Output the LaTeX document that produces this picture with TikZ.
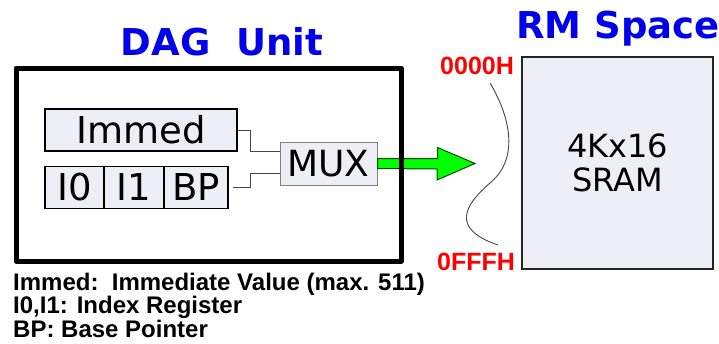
\documentclass[tikz,border=0pt]{standalone}
\usepackage{fontspec}
\setmainfont{DejaVu Sans}
\newfontfamily\notefont{Liberation Sans}
\usetikzlibrary{positioning}

\definecolor{boxfill}{RGB}{238,238,246}
\definecolor{titleblue}{RGB}{0,0,235}
\definecolor{addrred}{RGB}{255,0,0}
\definecolor{wiregray}{RGB}{70,70,70}

\tikzset{
  regbox/.style={draw=black, line width=1.6pt, fill=boxfill, inner sep=0pt,
    minimum height=42pt, font=\fontsize{37}{40}\selectfont},
  muxbox/.style={draw=gray, line width=1pt, fill=boxfill, inner sep=0pt,
    minimum width=97pt, minimum height=43pt, font=\fontsize{36}{40}\selectfont},
  wire/.style={draw=wiregray, line width=0.9pt},
  title/.style={text=titleblue, font=\fontsize{37}{40}\selectfont\bfseries, inner sep=0pt},
  addr/.style={text=addrred, font=\notefont\fontsize{25}{28}\selectfont\bfseries, inner sep=0pt},
  note/.style={font=\notefont\fontsize{24}{26}\selectfont\bfseries, inner sep=0pt}
}

\begin{document}
\begin{tikzpicture}[x=1pt,y=-1pt]
  \useasboundingbox (0,0) rectangle (719,343);

  % Titles
  \node[title, anchor=base] (dagtitle) at (222,55) {DAG\ \ Unit};
  \node[title, anchor=base west] (rmtitle) at (516,38) {RM Space};

  % Registers and mux
  \node[regbox, minimum width=192pt] (immed) at (141,130) {Immed};
  \node[regbox, minimum width=59pt] (izero) at (74.5,187.5) {I0};
  \node[regbox, minimum width=60pt] (ione) at (134,187.5) {I1};
  \node[regbox, minimum width=64pt] (bp) at (196,187.5) {BP};
  \node[muxbox] (mux) at (328.5,163.5) {MUX};

  \draw[wire] (immed.east) -- ++(13,0) |- ([yshift=12pt]mux.west);
  \draw[wire] ([xshift=4pt]bp.east) -- ++(18,0) |- ([yshift=-10pt]mux.west);

  % Green arrow to memory
  \coordinate (tip) at (475,163.5);
  \draw[draw=black!70!green, line width=1pt, fill=green, line join=miter]
    ([yshift=5pt]mux.east) -- ++(60,0) -- ++(0,-11) -- (tip)
    -- ++(-38,16.5) -- ++(0,-11) -- ([yshift=-5pt]mux.east) -- cycle;

  % DAG unit frame (on top of the arrow)
  \draw[line width=5pt, line join=round] (16,68) rectangle (401,261);

  % Memory
  \node[draw=black!85, line width=2.5pt, fill=boxfill, minimum width=191pt,
    minimum height=212pt, align=center, inner sep=0pt,
    font=\fontsize{32}{34}\selectfont] (sram) at (617.5,163) {4Kx16\\SRAM};

  \node[addr, anchor=base west] (first) at (440,74) {0000H};
  \node[addr, anchor=base west] (last) at (437,270) {0FFFH};
  \draw[wiregray, line width=0.9pt] (490,83) .. controls (512,120) and (518,160) .. (490,183)
    .. controls (455,213) and (460,232) .. (498,245);

  % Legend
  \node[note, anchor=base west] (legimm) at (13,290) {Immed:\ \ Immediate Value (max. 511)};
  \node[note, anchor=base west] (legidx) at (13,313.5) {I0,I1: Index Register};
  \node[note, anchor=base west] (legbp) at (13,337) {BP: Base Pointer};
\end{tikzpicture}
\end{document}
